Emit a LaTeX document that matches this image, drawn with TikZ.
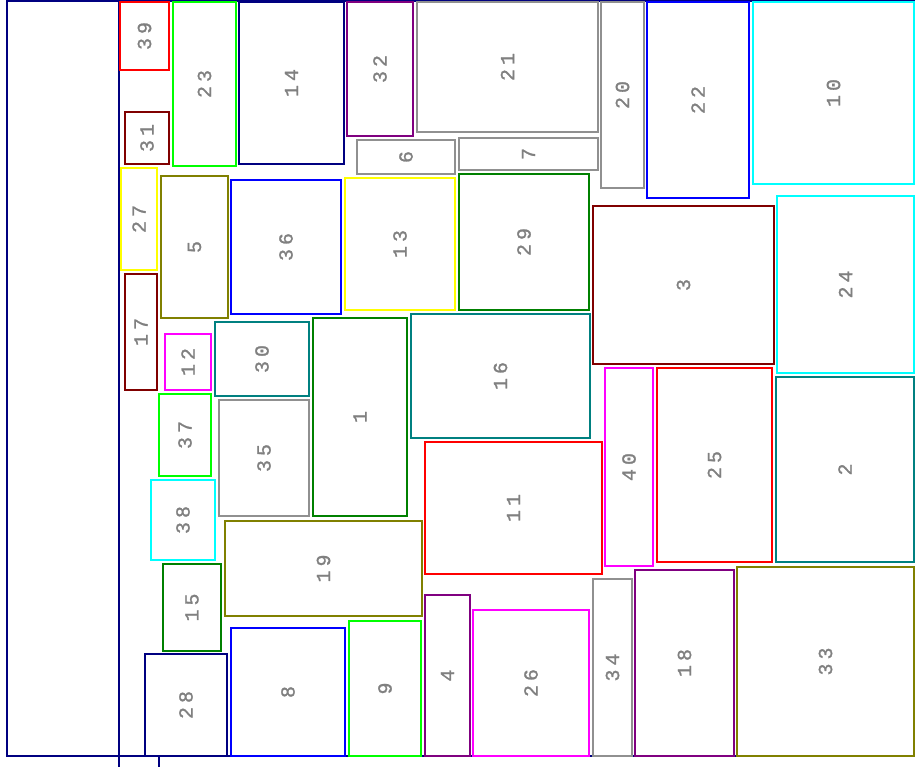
\documentclass[tikz,border=0pt]{standalone}
\usepackage{fontspec}
\newfontfamily\lblfont[LetterSpace=20,FakeBold=1.2]{Liberation Mono}
\definecolor{cNavy}{HTML}{000080}
\definecolor{cRed}{HTML}{FF0000}
\definecolor{cLime}{HTML}{00FF00}
\definecolor{cMaroon}{HTML}{800000}
\definecolor{cYellow}{HTML}{FFFF00}
\definecolor{cOlive}{HTML}{808000}
\definecolor{cBlue}{HTML}{0000FF}
\definecolor{cPurple}{HTML}{800080}
\definecolor{cGray}{HTML}{909090}
\definecolor{cGreen}{HTML}{008000}
\definecolor{cCyan}{HTML}{00FFFF}
\definecolor{cTeal}{HTML}{008080}
\definecolor{cMagenta}{HTML}{FF00FF}
\definecolor{cLabel}{HTML}{808080}
\tikzset{
  frameline/.style={cNavy,line width=1.2pt},
  itembox/.style={line width=1.3pt},
  itemlabel/.style={font=\lblfont\fontsize{20}{20}\selectfont,text=cLabel,inner sep=0pt,rotate=90}
}
\begin{document}
\begin{tikzpicture}[x=1pt,y=-1pt]
  \useasboundingbox (0,0) rectangle (915,771);
  % bin frame
  \draw[frameline] (7,1) rectangle (916,756);
  \draw[frameline] (119,1) -- (119,767);
  \draw[frameline] (159,756) -- (159,767);
  % packed items: label/colour/x1/y1/x2/y2
  \foreach \n/\c/\xa/\ya/\xb/\yb in {
      39/cRed/120/2/169/70, 23/cLime/173/2/236/166, 14/cNavy/239/2/344/164,
      31/cMaroon/125/112/169/164, 27/cYellow/121/168/157/270, 5/cOlive/161/176/228/318,
      36/cBlue/231/180/341/314, 32/cPurple/347/2/413/136, 21/cGray/417/2/598/132,
      6/cGray/357/140/455/174, 7/cGray/459/138/598/170, 13/cYellow/345/178/455/310,
      29/cGreen/459/174/589/310, 20/cGray/601/2/644/188, 22/cBlue/647/2/749/198,
      10/cCyan/753/2/914/184, 3/cMaroon/593/206/774/364, 24/cCyan/777/196/914/373,
      17/cMaroon/125/274/157/390, 12/cMagenta/165/334/211/390, 30/cTeal/215/322/309/396,
      37/cLime/159/394/211/476, 35/cGray/219/400/309/516, 38/cCyan/151/480/215/560,
      1/cGreen/313/318/407/516, 16/cTeal/411/314/590/438, 11/cRed/425/442/602/574,
      40/cMagenta/605/368/653/566, 25/cRed/657/368/772/562, 2/cTeal/776/377/914/562,
      15/cGreen/163/564/221/651, 19/cOlive/225/521/422/616, 28/cNavy/145/654/227/756,
      8/cBlue/231/628/345/756, 9/cLime/349/621/421/756, 4/cPurple/425/595/470/756,
      26/cMagenta/473/610/589/756, 34/cGray/593/579/632/756, 18/cPurple/635/570/734/756,
      33/cOlive/737/567/914/756} {
    \draw[itembox,\c] (\xa,\ya) rectangle (\xb,\yb);
    \node[itemlabel] (item\n) at ({(\xa+\xb)/2},{(\ya+\yb)/2}) {\n};
  }
\end{tikzpicture}
\end{document}
